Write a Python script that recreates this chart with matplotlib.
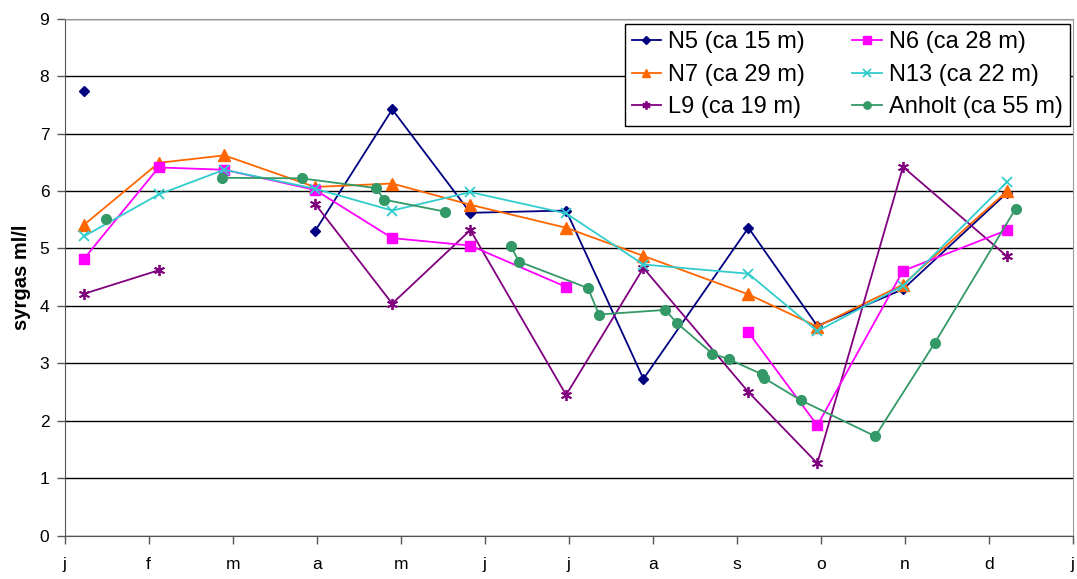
import numpy as np
import matplotlib.pyplot as plt

plt.rcParams['font.family'] = ['Liberation Sans', 'DejaVu Sans']

# provtagningstillfällen (månad, 0 = 1 jan)
dates = [0.23, 1.12, 1.90, 2.98, 3.90, 4.83, 5.97, 6.89, 8.14, 8.96, 9.98, 11.22]
nan = np.nan
n5 = [7.74, nan, nan, 5.30, 7.42, 5.62, 5.66, 2.73, 5.36, 3.65, 4.29, 5.97]
n6 = [4.82, 6.41, 6.37, 6.02, 5.18, 5.05, 4.33, nan, 3.54, 1.92, 4.61, 5.32]
n7 = [5.41, 6.49, 6.62, 6.07, 6.13, 5.76, 5.36, 4.87, 4.20, 3.64, 4.37, 6.00]
n13 = [5.21, 5.94, 6.37, 6.04, 5.66, 5.98, 5.61, 4.72, 4.56, 3.56, 4.35, 6.16]
l9 = [4.21, 4.62, nan, 5.78, 4.04, 5.32, 2.45, 4.66, 2.50, 1.26, 6.42, 4.86]

anholt_dates = [0.49, 1.0, 1.87, 2.82, 3.71, 3.80, 4.53, 5.0, 5.31, 5.41, 6.23, 6.36,
                7.15, 7.29, 7.71, 7.91, 8.30, 8.33, 8.76, 9.65, 10.36, 11.32]
anholt = [5.51, nan, 6.23, 6.22, 6.05, 5.85, 5.64, nan, 5.04, 4.77, 4.31, 3.85,
          3.93, 3.70, 3.17, 3.07, 2.81, 2.74, 2.36, 1.73, 3.36, 5.69]

months = ['j', 'f', 'm', 'a', 'm', 'j', 'j', 'a', 's', 'o', 'n', 'd', 'j']

fig = plt.figure(figsize=(10.77, 5.79), dpi=100)
ax = fig.add_axes([0.060, 0.0748, 0.936, 0.893])

lw = 1.3
ax.plot(dates, n5, color='#000080', marker='D', ms=5, lw=lw, label='N5 (ca 15 m)')
ax.plot(dates, n7, color='#FF6600', marker='^', ms=8, lw=lw, label='N7 (ca 29 m)')
ax.plot(dates, l9, color='#800080', marker=(6, 2, 0), ms=8, mew=1.3, lw=lw, label='L9 (ca 19 m)')
ax.plot(dates, n6, color='#FF00FF', marker='s', ms=7, lw=lw, label='N6 (ca 28 m)')
ax.plot(dates, n13, color='#33CCCC', marker='x', ms=7, mew=1.3, lw=lw, label='N13 (ca 22 m)')
ax.plot(anholt_dates, anholt, color='#339966', marker='o', ms=7, lw=lw, label='Anholt (ca 55 m)')

ax.set_xlim(0, 12)
ax.set_ylim(0, 9)
ax.set_xticks(range(13))
ax.set_xticklabels(months)
ax.set_yticks(range(10))
ax.yaxis.grid(True, color='black', lw=1)
ax.set_axisbelow(True)
ax.tick_params(axis='both', labelsize=12.5, length=6, width=1, color='#555555')
ax.tick_params(axis='x', pad=9)
ax.tick_params(axis='y', pad=5)
for s in ['top', 'right']:
    ax.spines[s].set_color('#999999')
for s in ['left', 'bottom']:
    ax.spines[s].set_color('#555555')
ax.set_ylabel('syrgas ml/l', fontsize=14.5, fontweight='bold', labelpad=6)

leg = ax.legend(ncol=2, loc='upper right', bbox_to_anchor=(0.9973, 0.9894), borderaxespad=0,
                fontsize=17, frameon=True, fancybox=False, edgecolor='black', framealpha=1,
                handlelength=1.25, handletextpad=0.3, columnspacing=2.0,
                labelspacing=0.45, borderpad=0.3, markerscale=0.75)
leg.get_frame().set_linewidth(1)

fig.savefig('out.png', dpi=100)
